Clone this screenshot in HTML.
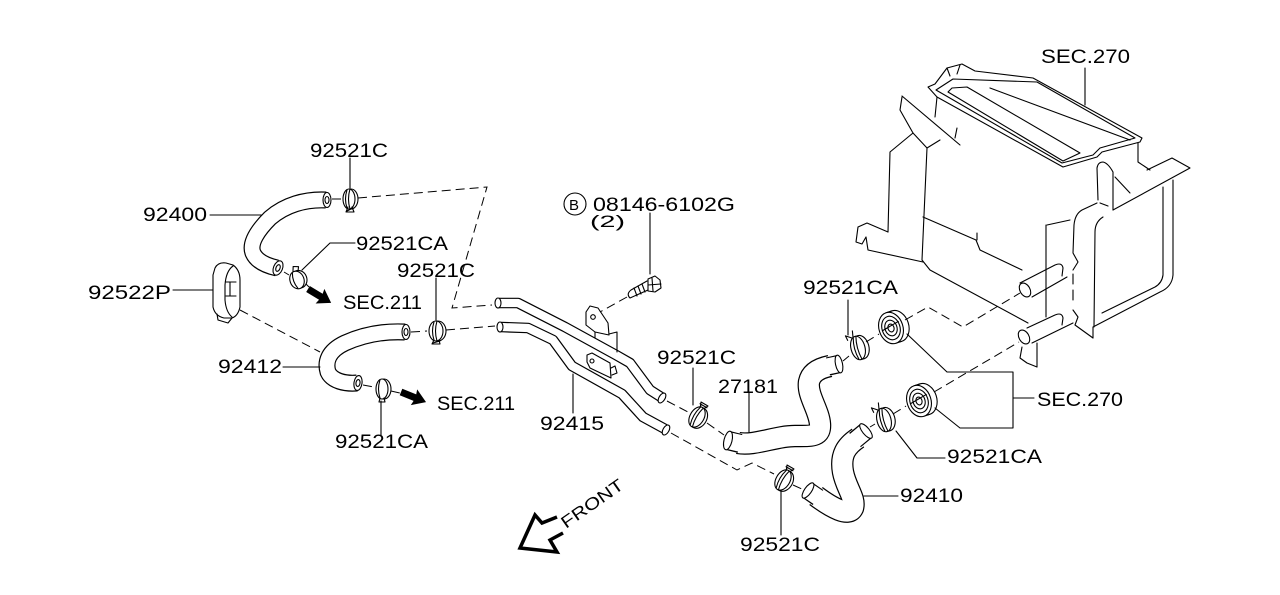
<!DOCTYPE html>
<html><head><meta charset="utf-8"><style>
html,body{margin:0;padding:0;background:#fff;}
svg{display:block;}
text{font-family:"Liberation Sans",sans-serif;font-size:19px;fill:#000;}
</style></head><body>
<svg width="1280" height="595" viewBox="0 0 1280 595" xmlns="http://www.w3.org/2000/svg">
<rect width="1280" height="595" fill="#fff"/>

<!-- ===== HOSES (stroke trick) ===== -->
<g fill="none" stroke-linejoin="round">
  <!-- 92400 -->
  <path d="M326,200 C305,199 285,205 270,218 C258,230 249,243 253,253 C257,262 268,266 277,268" stroke="#000" stroke-width="17"/>
  <path d="M326,200 C305,199 285,205 270,218 C258,230 249,243 253,253 C257,262 268,266 277,268" stroke="#fff" stroke-width="14.6"/>
  <!-- 92412 -->
  <path d="M405,332 C385,331 365,334 345,343 C328,351 325,362 328,372 C332,381 345,384 357,383" stroke="#000" stroke-width="17"/>
  <path d="M405,332 C385,331 365,334 345,343 C328,351 325,362 328,372 C332,381 345,384 357,383" stroke="#fff" stroke-width="14.6"/>
  <!-- 92415 upper pipe -->
  <path d="M499,303 L518,303 L565,327 L616,355 L630,363 L650,390 L661,397" stroke="#000" stroke-width="10.6"/>
  <path d="M499,303 L518,303 L565,327 L616,355 L630,363 L650,390 L661,397" stroke="#fff" stroke-width="8.2"/>
  <!-- 92415 lower pipe -->
  <path d="M501,327 L528,328 L553,340 L572,366 L622,394 L643,417 L665,429" stroke="#000" stroke-width="10.6"/>
  <path d="M501,327 L528,328 L553,340 L572,366 L622,394 L643,417 L665,429" stroke="#fff" stroke-width="8.2"/>
  <!-- 27181 -->
  <path d="M738,443 C755,446 775,436 795,436 C812,436 821,437 820,424 C819,410 807,395 809,382 C811,372 820,368 830,366" stroke="#000" stroke-width="22.4"/>
  <path d="M738,443 C755,446 775,436 795,436 C812,436 821,437 820,424 C819,410 807,395 809,382 C811,372 820,368 830,366" stroke="#fff" stroke-width="20"/>
  <!-- 92410 -->
  <path d="M858,438 C846,446 840,455 843,472 C846,488 856,498 853,508 C849,517 832,508 816,496" stroke="#000" stroke-width="22.4"/>
  <path d="M858,438 C846,446 840,455 843,472 C846,488 856,498 853,508 C849,517 832,508 816,496" stroke="#fff" stroke-width="20"/>
  <!-- cuffs -->
  <path d="M740,443.5 L728,440.5" stroke="#000" stroke-width="19.4"/>
  <path d="M741,443.5 L728,440.5" stroke="#fff" stroke-width="17"/>
  <path d="M828,366.5 L839,364" stroke="#000" stroke-width="18.4"/>
  <path d="M827,366.5 L839,364" stroke="#fff" stroke-width="16"/>
  <path d="M855,440 L866,431" stroke="#000" stroke-width="18.4"/>
  <path d="M854,441 L866,431" stroke="#fff" stroke-width="16"/>
  <path d="M818,497.5 L808,490.5" stroke="#000" stroke-width="18.4"/>
  <path d="M819,498 L808,490.5" stroke="#fff" stroke-width="16"/>
</g>

<g fill="#fff" stroke="#000" stroke-width="1.1">
  <!-- hose ends -->
  <ellipse cx="327" cy="200" rx="4" ry="7.5"/><ellipse cx="327" cy="200" rx="2" ry="3.5"/>
  <ellipse cx="278" cy="268" rx="4.5" ry="7.5" transform="rotate(22 278 268)"/><ellipse cx="278" cy="268" rx="2" ry="3.5" transform="rotate(22 278 268)"/>
  <ellipse cx="406" cy="332" rx="4" ry="7.5"/><ellipse cx="406" cy="332" rx="2" ry="3.5"/>
  <ellipse cx="358" cy="383" rx="4" ry="7.5" transform="rotate(8 358 383)"/><ellipse cx="358" cy="383" rx="2" ry="3.5" transform="rotate(8 358 383)"/>
  <!-- pipe ends -->
  <ellipse cx="498" cy="303" rx="3" ry="5"/>
  <ellipse cx="500" cy="327" rx="3" ry="5"/>
  <ellipse cx="662" cy="398" rx="3" ry="5.5" transform="rotate(32 662 398)"/>
  <ellipse cx="666" cy="430" rx="3" ry="5.5" transform="rotate(30 666 430)"/>
  <!-- cuff ends -->
  <ellipse cx="728" cy="440.5" rx="4" ry="9.5" transform="rotate(14 728 440.5)"/>
  <ellipse cx="839" cy="364" rx="3.5" ry="9" transform="rotate(-12 839 364)"/>
  <ellipse cx="866" cy="431" rx="3.5" ry="9" transform="rotate(-39 866 431)"/>
  <ellipse cx="808" cy="490.5" rx="3.5" ry="9" transform="rotate(35 808 490.5)"/>
</g>

<!-- ===== LINE ART ===== -->
<g fill="none" stroke="#000" stroke-width="1.1" stroke-linejoin="round" stroke-linecap="round">
  <!-- 92522P clip -->
  <path d="M215,268 Q218,262 226,263 L233,265 Q240,270 240,280 L240,307 Q238,316 232,318 L224,318 Q215,316 213,307 L213,275 Z" fill="#fff"/>
  <path d="M233,266 Q226,271 225,285 L225,300 Q226,312 232,317"/>
  <path d="M226,282 L236,282 M226,296 L236,296 M230,282 L230,296"/>
  <path d="M217,314 L218,320 L228,323 L232,318"/>

  <!-- bolt -->
  <path d="M647,281 L631,290 Q626,294 630,298 L648,290" fill="#fff"/>
  <path d="M634,288 L637,296 M638,286 L641,294 M642,284 L645,292"/>
  <path d="M648,279 L655,276 L660,280 L661,288 L655,292 L648,291 Z" fill="#fff"/>
  <path d="M652,278 L653,291 M648,285 L661,284"/>

  <!-- brackets on pipes -->
  <path d="M586,312 L590,306 L598,308 L608,323 L609,335 L595,332 L586,325 Z" fill="#fff"/>
  <circle cx="593" cy="317" r="2.3"/>
  <path d="M595,332 L595,338 M609,334 L617,332 L617,352"/>
  <path d="M587,355 L592,353 L610,363 L611,378 L590,368 L587,362 Z" fill="#fff"/>
  <circle cx="592" cy="361" r="2"/>
  <path d="M611,368 L615,366 L617,373 L612,375"/>

  <!-- clamps -->
  <g transform="translate(349,199)"><ellipse cx="2" rx="7" ry="10" fill="#fff"/><ellipse rx="6" ry="10" fill="#fff"/><path d="M-2,-9 Q-5,0 -2,9 M1,-10 Q-2,0 1,10"/><path d="M-1,8 L-3,13 L5,13 L3,8 M-2,12 L4,9"/></g>
  <g transform="translate(297,280) rotate(-20)"><ellipse cx="2" rx="8" ry="9" fill="#fff"/><ellipse rx="7" ry="9" fill="#fff"/><path d="M-2,-8 Q-5,0 -2,8"/><path d="M-1,-9 L1,-14 L6,-12 L4,-8"/></g>
  <g transform="translate(436,331)"><ellipse cx="2" rx="8" ry="10" fill="#fff"/><ellipse rx="7" ry="10" fill="#fff"/><path d="M-2,-9 Q-5,0 -2,9 M1,-10 Q-2,0 1,10"/><path d="M-2,9 L-4,13 L4,13 L3,9 M-3,12 L4,10"/></g>
  <g transform="translate(382,389)"><ellipse cx="2" rx="7" ry="10" fill="#fff"/><ellipse rx="6" ry="10" fill="#fff"/><path d="M-2,-9 Q-5,0 -2,9"/><path d="M-2,9 L-3,13 L3,13 L2,9"/></g>
  <g transform="translate(697,417) rotate(30)"><ellipse cx="2" rx="8" ry="11" fill="#fff"/><ellipse rx="7" ry="11" fill="#fff"/><path d="M-2,-10 Q-5,0 -2,10 M1,-11 Q-2,0 1,11"/><path d="M-2,-10 L-4,-15 L4,-15 L2,-11 M-4,-13 L4,-13"/></g>
  <g transform="translate(783,480) rotate(30)"><ellipse cx="2" rx="8" ry="11" fill="#fff"/><ellipse rx="7" ry="11" fill="#fff"/><path d="M-2,-10 Q-5,0 -2,10 M1,-11 Q-2,0 1,11"/><path d="M-2,-10 L-4,-15 L4,-15 L2,-11 M-4,-13 L4,-13"/></g>
  <g transform="translate(858,348) rotate(-15)"><ellipse cx="3" rx="8" ry="12" fill="#fff"/><ellipse rx="7" ry="12" fill="#fff"/><path d="M-2,-11 Q-5,0 -2,11 M1,-12 Q-2,0 1,12"/><path d="M-3,-11 L-9,-15 L-8,-10 M-2,-12 L-1,-18"/></g>
  <g transform="translate(884,420) rotate(-15)"><ellipse cx="3" rx="8" ry="12" fill="#fff"/><ellipse rx="7" ry="12" fill="#fff"/><path d="M-2,-11 Q-5,0 -2,11 M1,-12 Q-2,0 1,12"/><path d="M-3,-11 L-9,-15 L-8,-10 M-2,-12 L-1,-18"/></g>

  <!-- rings (grommets) -->
  <g transform="translate(891,328) rotate(-18)"><ellipse cx="6" rx="12" ry="16" fill="#fff"/><path d="M0,-16 L6,-16 M0,16 L6,16"/><ellipse rx="12" ry="16" fill="#fff"/><ellipse rx="9" ry="12"/><ellipse rx="6" ry="8"/><ellipse rx="3" ry="4"/><path d="M-9,0 L9,-4"/></g>
  <g transform="translate(919,401) rotate(-18)"><ellipse cx="6" rx="12" ry="16" fill="#fff"/><path d="M0,-16 L6,-16 M0,16 L6,16"/><ellipse rx="12" ry="16" fill="#fff"/><ellipse rx="9" ry="12"/><ellipse rx="6" ry="8"/><ellipse rx="3" ry="4"/><path d="M-9,0 L9,-4"/></g>

  <!-- ===== HEATER UNIT ===== -->
  <path d="M928,87 L935,84 L947,68 L962,64 L975,71 L1033,78 L1142,138 L1140,142 L1102,152 L1097,157 L1063,167 L937,97 Z"/>
  <path d="M936,90 L953,79 L1037,82 L1135,138 L1100,148 L1093,155 L1062,163 Z"/>
  <path d="M948,92 L952,88 L967,87 L1080,153 L1063,161 Z"/>
  <path d="M990,88 L1130,140"/>
  <path d="M947,68 L950,76 M960,65 L957,74"/>
  <!-- left flap -->
  <path d="M902,97 L900,110 L913,133 L890,152 L888,232"/>
  <path d="M902,96 L960,145"/>
  <path d="M913,133 L927,148 L940,140"/>
  <path d="M957,128 L955,138"/>
  <path d="M937,97 L935,117"/>
  <path d="M927,148 L922,260"/>
  <path d="M888,232 L867,223 L858,227 L856,242 L862,244 L866,237 L868,250 L923,262"/>
  <path d="M922,260 L930,270 L1028,323"/>
  <path d="M923,217 L976,240 L980,250 L1022,270"/>
  <path d="M977,233 L977,240"/>
  <!-- right side -->
  <path d="M1138,143 L1138,162 L1150,170"/>
  <path d="M1098,200 L1097,168 Q1098,162 1103,162 Q1108,163 1113,172 L1113,210"/>
  <path d="M1100,203 L1108,206"/>
  <path d="M1115,177 L1130,193"/>
  <path d="M1147,170 L1172,158 L1190,168 L1113,210"/>
  <path d="M1173,180 L1173,275 Q1172,287 1160,292 L1093,327"/>
  <path d="M1163,187 L1163,275 Q1162,283 1155,287 L1102,313"/>
  <path d="M1103,217 Q1095,222 1095,232 L1094,327"/>
  <path d="M1097,203 L1082,210 Q1075,214 1074,225 L1073,253 L1078,262 L1073,270 M1073,310 L1078,317 L1075,325 L1093,338 L1093,327"/>
  <path d="M1073,274 L1073,284 M1073,290 L1073,300"/>
  <path d="M1047,225 L1070,220"/>
  <path d="M1046,225 L1046,317"/>
  <!-- heater pipes -->
  <path d="M1020,283 L1055,265 Q1062,262 1063,268 L1062,276 M1032,297 L1067,277"/>
  <ellipse cx="1025" cy="290" rx="5" ry="7.5" transform="rotate(-30 1025 290)" fill="#fff"/>
  <path d="M1027,328 L1055,315 Q1062,312 1063,318 L1062,325 M1032,343 L1073,323"/>
  <ellipse cx="1024" cy="337" rx="5" ry="7.5" transform="rotate(-30 1024 337)" fill="#fff"/>
  <path d="M1022,347 L1020,358 L1027,363 L1037,367 L1037,343"/>

  <!-- ===== LEADERS ===== -->
  <path d="M350,158 L350,188"/>
  <path d="M210,215 L262,215"/>
  <path d="M355,243 L330,243 L302,270"/>
  <path d="M173,290 L213,290"/>
  <path d="M436,278 L436,320"/>
  <path d="M283,367 L320,367"/>
  <path d="M381,401 L381,435"/>
  <path d="M650,213 L650,274"/>
  <path d="M573,374 L573,413"/>
  <path d="M693,368 L693,405"/>
  <path d="M749,393 L749,432"/>
  <path d="M848,300 L848,335"/>
  <path d="M1085,68 L1085,105"/>
  <path d="M907,334 L947,372 L1013,372 L1013,428 L960,428 L935,408 M1013,398 L1034,398"/>
  <path d="M896,431 L917,458 L945,458"/>
  <path d="M864,496 L898,496"/>
  <path d="M781,491 L781,535"/>

  <!-- B circle -->
  <circle cx="575" cy="204" r="11"/>

  <!-- FRONT arrow -->
  <path d="M557,517 L542,523 L535,515 L520,548 L557,552 L550,540 L563,533" stroke-width="3.5" stroke-linejoin="miter" stroke-linecap="butt"/>
</g>

<!-- dashed lines -->
<g fill="none" stroke="#000" stroke-width="1" stroke-dasharray="9 5">
  <path d="M358,198 L487,187 L452,308 L492,305"/>
  <path d="M332,199 L341,199"/>
  <path d="M240,310 L320,352"/>
  <path d="M411,332 L427,331 M446,330 L495,326"/>
  <path d="M363,385 L374,387 M391,391 L400,393"/>
  <path d="M284,272 L289,275 M306,284 L309,287"/>
  <path d="M627,297 L600,312"/>
  <path d="M667,401 L688,412 M707,423 L724,435"/>
  <path d="M671,433 L737,470 L752,463 L774,474"/>
  <path d="M793,485 L804,490"/>
  <path d="M843,361 L849,356 M866,342 L879,334"/>
  <path d="M870,427 L875,424 M893,414 L906,406"/>
  <path d="M905,320 L928,307 L963,327 L1020,293"/>
  <path d="M934,392 L1019,342"/>
</g>

<!-- black SEC.211 arrows -->
<polygon points="0,-3.5 15,-3.5 14,-8.5 27,0 14,8.5 15,3.5 0,3.5" fill="#000" transform="translate(308,289) rotate(31)"/>
<polygon points="0,-3.5 15,-3.5 14,-8.5 27,0 14,8.5 15,3.5 0,3.5" fill="#000" transform="translate(401,392) rotate(22)"/>

<!-- ===== TEXT ===== -->
<text x="1041" y="63" textLength="89" lengthAdjust="spacingAndGlyphs">SEC.270</text>
<text x="310" y="157" textLength="78" lengthAdjust="spacingAndGlyphs">92521C</text>
<text x="143" y="221" textLength="64" lengthAdjust="spacingAndGlyphs">92400</text>
<text x="356" y="250" textLength="92" lengthAdjust="spacingAndGlyphs">92521CA</text>
<text x="88" y="299" textLength="83" lengthAdjust="spacingAndGlyphs">92522P</text>
<text x="343" y="309" textLength="79" lengthAdjust="spacingAndGlyphs">SEC.211</text>
<text x="397" y="277" textLength="78" lengthAdjust="spacingAndGlyphs">92521C</text>
<text x="218" y="373" textLength="64" lengthAdjust="spacingAndGlyphs">92412</text>
<text x="437" y="410" textLength="78" lengthAdjust="spacingAndGlyphs">SEC.211</text>
<text x="335" y="448" textLength="93" lengthAdjust="spacingAndGlyphs">92521CA</text>
<text x="569" y="210" style="font-size:15px">B</text>
<text x="593" y="211" textLength="142" lengthAdjust="spacingAndGlyphs">08146-6102G</text>
<text x="590" y="227" textLength="35" lengthAdjust="spacingAndGlyphs" style="font-size:17px">(2)</text>
<text x="540" y="430" textLength="64" lengthAdjust="spacingAndGlyphs">92415</text>
<text x="657" y="364" textLength="79" lengthAdjust="spacingAndGlyphs">92521C</text>
<text x="718" y="393" textLength="60" lengthAdjust="spacingAndGlyphs">27181</text>
<text x="803" y="294" textLength="95" lengthAdjust="spacingAndGlyphs">92521CA</text>
<text x="1037" y="406" textLength="86" lengthAdjust="spacingAndGlyphs">SEC.270</text>
<text x="947" y="463" textLength="95" lengthAdjust="spacingAndGlyphs">92521CA</text>
<text x="900" y="502" textLength="63" lengthAdjust="spacingAndGlyphs">92410</text>
<text x="740" y="551" textLength="80" lengthAdjust="spacingAndGlyphs">92521C</text>
<text x="0" y="0" textLength="72" lengthAdjust="spacingAndGlyphs" transform="translate(566,529) rotate(-35)" style="font-size:17px">FRONT</text>
</svg>
</body></html>
